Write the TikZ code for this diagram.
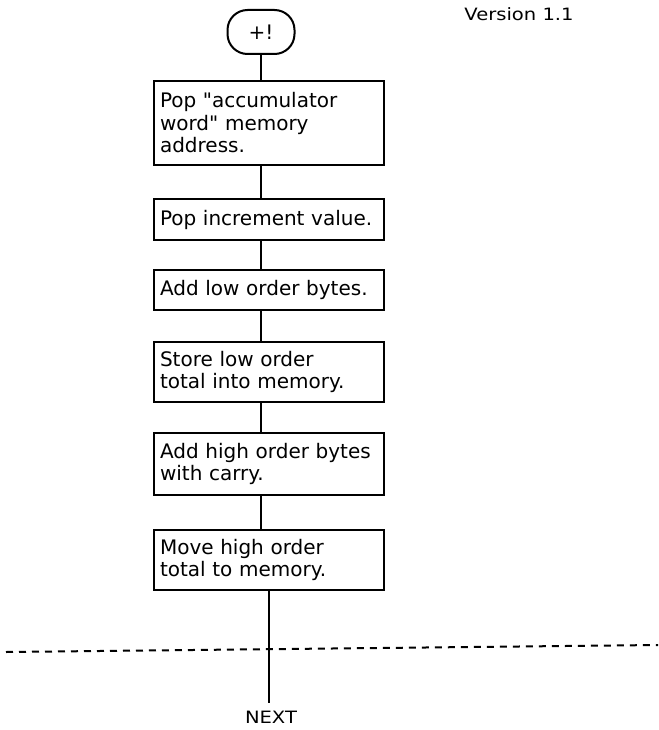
\documentclass[tikz,border=0pt]{standalone}
\usepackage{fontspec}
\setmainfont[Ligatures=TeXOff]{DejaVu Sans}
\newfontfamily\widefont[Ligatures=TeXOff, FakeStretch=1.15]{DejaVu Sans}
\usetikzlibrary{positioning}

\begin{document}
\begin{tikzpicture}[x=1pt, y=-1pt,
            flowline/.style={color=black, line width=2pt},
            procbox/.style={draw, line width=2pt, align=left, text width=218pt,
                inner xsep=6pt, inner ysep=3pt, font=\fontsize{20}{22.5}\selectfont},
            termbox/.style={draw, line width=2pt, rounded corners=20pt,
                minimum width=67pt, minimum height=44pt, font=\fontsize{20}{22}\selectfont},
            plaintext/.style={align=center, font=\widefont\fontsize{17}{20}\selectfont}
        ]
            \useasboundingbox (0, 0) rectangle (658, 730);

            % header
            \node[plaintext] (version) at (519, 14) {Version 1.1};

            % start
            \node[termbox] (start) at (261, 32) {+!};

            % steps
            \node[procbox, minimum height=84pt] (popaddr) at (269, 123) {Pop "accumulator\\word" memory\\address.};
            \node[procbox, minimum height=41pt] (popinc) at (269, 219.5) {Pop increment value.};
            \node[procbox, minimum height=40pt] (addlow) at (269, 290) {Add low order bytes.};
            \node[procbox, minimum height=60pt] (storelow) at (269, 372) {Store low order\\total into memory.};
            \node[procbox, minimum height=62pt] (addhigh) at (269, 464) {Add high order bytes\\with carry.};
            \node[procbox, minimum height=60pt] (movehigh) at (269, 560) {Move high order\\total to memory.};

            % exit
            \node[plaintext, anchor=north, inner sep=0pt] (next) at (271, 711) {NEXT};
            \coordinate (nextin) at (269, 703);

            % connectors
            \draw[flowline] (start.south) -- (start.south |- popaddr.north);
            \draw[flowline] (popaddr.south -| start) -- (popinc.north -| start);
            \draw[flowline] (popinc.south -| start) -- (addlow.north -| start);
            \draw[flowline] (addlow.south -| start) -- (storelow.north -| start);
            \draw[flowline] (storelow.south -| start) -- (addhigh.north -| start);
            \draw[flowline] (addhigh.south -| start) -- (movehigh.north -| start);
            \draw[flowline] (movehigh.south -| nextin) -- (nextin);

            % page break
            \draw[line width=2pt, dash pattern=on 7pt off 6pt] (6, 652) -- (658, 645);

        \end{tikzpicture}
\end{document}
